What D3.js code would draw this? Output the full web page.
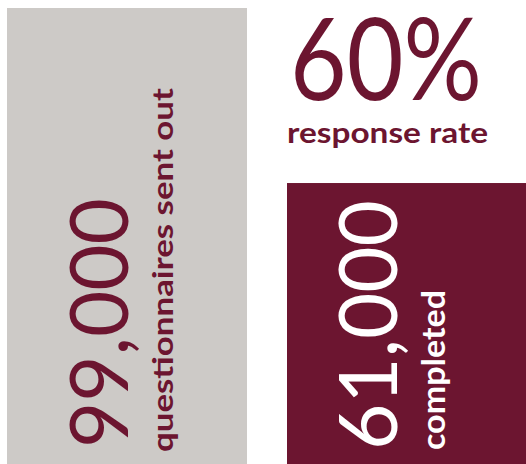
<!DOCTYPE html>
<html>
<head>
<meta charset="utf-8">
<script src="https://cdn.jsdelivr.net/npm/d3@7"></script>
<style>
  body { margin: 0; background: #fff; }
  svg { display: block; }
</style>
</head>
<body>
<div id="chart-area"></div>
<script>
var width = 526;
var height = 464;

// data
var categories = ["sent", "completed"];
var counts = [99000, 61000];
var labels = ["questionnaires sent out", "completed"];
var rate = 60;
var rateLabel = "response rate";

var maroon = "#6c1530";
var grey = "#cdcac7";
var fillColors = [grey, maroon];
var textColors = [maroon, "#ffffff"];

var svg = d3.select("#chart-area")
  .append("svg")
  .attr("width", width)
  .attr("height", height);

var xScale = d3.scaleBand().domain(categories).range([7, 527]).paddingInner(1 / 7);
var yScale = d3.scaleLinear().domain([0, 99000]).range([height, 8]);

var fmt = d3.format(",");

var bars = svg.selectAll(".bar")
  .data(categories)
  .enter().append("g")
  .attr("class", "bar");

bars.append("rect")
  .attr("x", function(d) { return xScale(d); })
  .attr("y", function(d, i) { return yScale(counts[i]); })
  .attr("width", xScale.bandwidth())
  .attr("height", function(d, i) { return height - yScale(counts[i]); })
  .attr("fill", function(d, i) { return fillColors[i]; });

// big rotated numbers
var numOffset = [121, 110];
var numLen = [250, 250];
var numBottom = [448, 450];
bars.append("text")
  .attr("transform", function(d, i) {
    return "translate(" + (xScale(d) + numOffset[i]) + "," + numBottom[i] + ") rotate(-90)";
  })
  .attr("font-family", "Lato, 'Noto Sans', sans-serif")
  .attr("font-size", "82px")
  .attr("textLength", function(d, i) { return numLen[i]; })
  .attr("lengthAdjust", "spacingAndGlyphs")
  .attr("fill", function(d, i) { return textColors[i]; })
  .text(function(d, i) { return fmt(counts[i]); });

// rotated labels
var labOffset = [166, 158];
var labLen = [364, 160];
var labBottom = [452, 450];
var labSize = [29, 32];
bars.append("text")
  .attr("transform", function(d, i) {
    return "translate(" + (xScale(d) + labOffset[i]) + "," + labBottom[i] + ") rotate(-90)";
  })
  .attr("font-family", "Lato, 'Noto Sans', sans-serif")
  .attr("font-weight", "bold")
  .attr("font-size", function(d, i) { return labSize[i] + "px"; })
  .attr("textLength", function(d, i) { return labLen[i]; })
  .attr("lengthAdjust", "spacingAndGlyphs")
  .attr("fill", function(d, i) { return textColors[i]; })
  .text(function(d, i) { return labels[i]; });

// response rate
svg.append("text")
  .attr("x", 290)
  .attr("y", 100)
  .attr("font-family", "Lato, 'Noto Sans', sans-serif")
  .attr("font-size", "114px")
  .attr("textLength", 192)
  .attr("lengthAdjust", "spacingAndGlyphs")
  .attr("fill", maroon)
  .text(rate + "%");

svg.append("text")
  .attr("x", 287)
  .attr("y", 143)
  .attr("font-family", "Lato, 'Noto Sans', sans-serif")
  .attr("font-weight", "bold")
  .attr("font-size", "29px")
  .attr("textLength", 201)
  .attr("lengthAdjust", "spacingAndGlyphs")
  .attr("fill", maroon)
  .text(rateLabel);
</script>
</body>
</html>
